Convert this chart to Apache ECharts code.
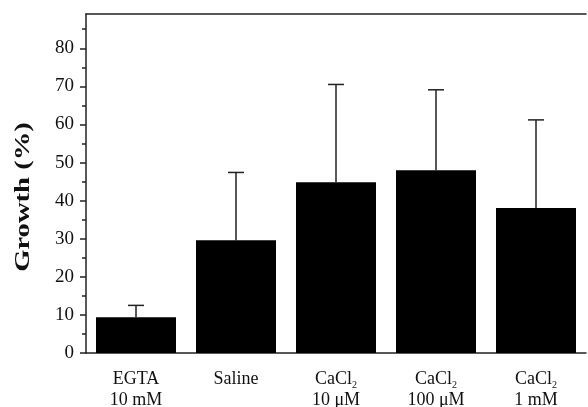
<!DOCTYPE html>
<html>
<head>
<meta charset="utf-8">
<script src="https://cdn.jsdelivr.net/npm/echarts@6/dist/echarts.min.js"></script>
<style>
  html, body { margin: 0; padding: 0; background: #fff; }
  #chart { width: 588px; height: 407px; }
</style>
</head>
<body>
<div id="chart"></div>
<script>
// categories (rich text markup for the CaCl2 subscript)
const categories = [
  "EGTA\n10 mM",
  "Saline",
  "CaCl{sub|2}\n10 μM",
  "CaCl{sub|2}\n100 μM",
  "CaCl{sub|2}\n1 mM"
];
const growth = [9.4, 29.6, 44.8, 48.0, 38.1];
const errorTop = [12.5, 47.4, 70.5, 69.1, 61.2];
const yTicks = [0, 10, 20, 30, 40, 50, 60, 70, 80];

const serif = "'Liberation Serif', 'DejaVu Serif', serif";
const axisColor = "#222";

let myChart = echarts.init(document.getElementById("chart"));
myChart.setOption({
  animation: false,
  grid: {
    left: 86,
    right: 2,
    top: 14,
    bottom: 54,
    outerBoundsMode: "none"
  },
  graphic: [
    {
      type: "text",
      x: 23,
      y: 197,
      rotation: Math.PI / 2,
      scaleX: 1.3,
      style: {
        text: "Growth (%)",
        font: "bold 22px " + serif,
        fill: "#111",
        align: "center",
        verticalAlign: "middle"
      }
    }
  ],
  xAxis: [
    {
      type: "category",
      data: categories,
      axisLine: { lineStyle: { color: axisColor, width: 1.5 } },
      axisTick: { show: false },
      axisLabel: {
        interval: 0,
        margin: 16,
        color: "#111",
        fontFamily: serif,
        fontSize: 18,
        lineHeight: 21,
        rich: {
          sub: {
            fontFamily: serif,
            fontSize: 10,
            verticalAlign: "bottom",
            padding: [8, 0, 0, 0],
            color: "#111"
          }
        }
      }
    },
    {
      type: "category",
      position: "top",
      data: categories,
      axisLine: { lineStyle: { color: axisColor, width: 1.5 } },
      axisTick: { show: false },
      axisLabel: { show: false }
    }
  ],
  yAxis: {
    type: "value",
    min: 0,
    max: 89,
    interval: 10,
    axisLine: { show: true, lineStyle: { color: axisColor, width: 1.5 } },
    axisTick: {
      show: true,
      length: 6,
      customValues: yTicks,
      lineStyle: { color: axisColor, width: 1.5 }
    },
    minorTick: { show: true, splitNumber: 2, length: 4, lineStyle: { color: axisColor, width: 1.5 } },
    splitLine: { show: false },
    axisLabel: {
      margin: 12,
      color: "#111",
      fontFamily: serif,
      fontSize: 19,
      customValues: yTicks
    }
  },
  series: [
    {
      type: "bar",
      data: growth,
      barWidth: 80,
      itemStyle: { color: "#000" }
    },
    {
      type: "custom",
      data: growth.map(function (v, i) { return [i, v, errorTop[i]]; }),
      z: 1,
      renderItem: function (params, api) {
        const base = api.coord([api.value(0), api.value(1)]);
        const top = api.coord([api.value(0), api.value(2)]);
        const cap = 8;
        return {
          type: "group",
          children: [
            {
              type: "line",
              shape: { x1: base[0], y1: base[1], x2: top[0], y2: top[1] },
              style: { stroke: "#222", lineWidth: 1.5 }
            },
            {
              type: "line",
              shape: { x1: top[0] - cap, y1: top[1], x2: top[0] + cap, y2: top[1] },
              style: { stroke: "#222", lineWidth: 1.5 }
            }
          ]
        };
      }
    }
  ]
});
</script>
</body>
</html>
